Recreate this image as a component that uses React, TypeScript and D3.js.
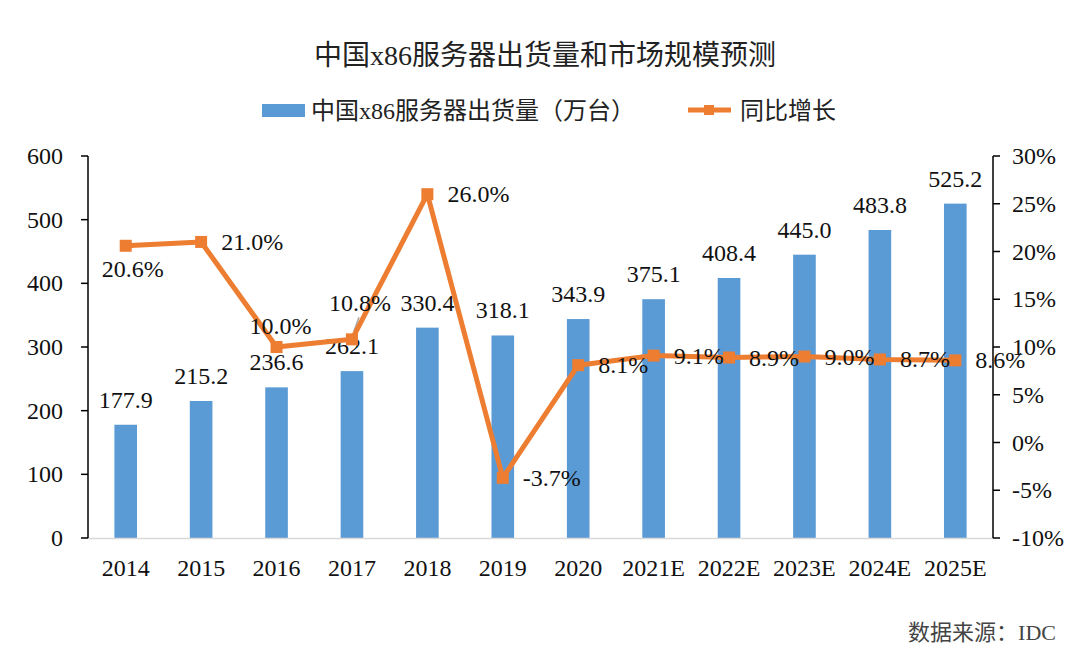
import * as d3 from 'd3';

const years = ['2014', '2015', '2016', '2017', '2018', '2019', '2020', '2021E', '2022E', '2023E', '2024E', '2025E'];
const shipments = [177.9, 215.2, 236.6, 262.1, 330.4, 318.1, 343.9, 375.1, 408.4, 445.0, 483.8, 525.2];
const growth = [20.6, 21.0, 10.0, 10.8, 26.0, -3.7, 8.1, 9.1, 8.9, 9.0, 8.7, 8.6];
const leftTicks = [0, 100, 200, 300, 400, 500, 600];
const rightTicks = [-10, -5, 0, 5, 10, 15, 20, 25, 30];

// label placement for the growth line: 'r' right, 'b' below, 't' above
const growthPos = ['b', 'r', 't', 't', 'r', 'r', 'r', 'r', 'r', 'r', 'r', 'r'];

const W = 1080;
const H = 653;
const left = 88;
const right = 993;
const top = 156;
const bottom = 538;

const BLUE = '#5B9BD5';
const ORANGE = '#ED7D31';
const FONT = '"Liberation Serif", "Times New Roman", "Noto Sans CJK SC", serif';
const CJK = '"Liberation Serif", "Noto Sans CJK SC", serif';

export default function App() {
  const x = d3.scaleBand<string>().domain(years).range([left, right]).paddingInner(0.7).paddingOuter(0.35);
  const y = d3.scaleLinear().domain([0, 600]).range([bottom, top]);
  const y2 = d3.scaleLinear().domain([-10, 30]).range([bottom, top]);
  const cx = (d: string) => (x(d) ?? 0) + x.bandwidth() / 2;

  const line = d3
    .line<number>()
    .x((_, i) => cx(years[i]))
    .y((d) => y2(d));

  return (
    <svg width={W} height={H} style={{ position: 'absolute', left: 0, top: 0, background: '#fff' }}>
      <text x={545} y={65} textAnchor="middle" fontFamily={CJK} fontSize={28} fill="#222">
        中国x86服务器出货量和市场规模预测
      </text>

      {/* legend */}
      <rect x={262} y={104} width={43} height={13} fill={BLUE} />
      <text x={311} y={119} fontFamily={CJK} fontSize={24} fill="#222">
        中国x86服务器出货量（万台）
      </text>
      <line x1={688} x2={731} y1={110} y2={110} stroke={ORANGE} strokeWidth={5} />
      <rect x={704} y={105} width={10} height={10} fill={ORANGE} />
      <text x={740} y={119} fontFamily={CJK} fontSize={24} fill="#222">
        同比增长
      </text>

      {/* bars */}
      {shipments.map((v, i) => (
        <rect key={years[i]} x={x(years[i])} y={y(v)} width={x.bandwidth()} height={bottom - y(v)} fill={BLUE} />
      ))}

      {/* x baseline */}
      <line x1={left} x2={right} y1={bottom + 0.5} y2={bottom + 0.5} stroke="#d9d9d9" strokeWidth={1.5} />

      {/* left axis */}
      <line x1={left} x2={left} y1={top} y2={bottom} stroke="#000" strokeWidth={1.5} />
      {leftTicks.map((t) => (
        <g key={t}>
          <line x1={left - 7} x2={left} y1={y(t)} y2={y(t)} stroke="#000" strokeWidth={1.5} />
          <text x={left - 25} y={y(t) + 8} textAnchor="end" fontFamily={FONT} fontSize={24} fill="#111">
            {t}
          </text>
        </g>
      ))}

      {/* right axis */}
      <line x1={right} x2={right} y1={top} y2={bottom} stroke="#000" strokeWidth={1.5} />
      {rightTicks.map((t) => (
        <g key={t}>
          <line x1={right} x2={right + 7} y1={y2(t)} y2={y2(t)} stroke="#000" strokeWidth={1.5} />
          <text x={right + 19} y={y2(t) + 8} fontFamily={FONT} fontSize={24} fill="#111">
            {t}%
          </text>
        </g>
      ))}

      {/* x labels */}
      {years.map((d) => (
        <text key={d} x={cx(d)} y={576} textAnchor="middle" fontFamily={FONT} fontSize={24} fill="#111">
          {d}
        </text>
      ))}

      {/* bar value labels */}
      {shipments.map((v, i) => (
        <text key={years[i]} x={cx(years[i])} y={y(v) - 17} textAnchor="middle" fontFamily={FONT} fontSize={24} fill="#111">
          {v.toFixed(1)}
        </text>
      ))}

      {/* leader line for 10.8% */}
      <line x1={cx(years[3]) + 2} y1={y2(growth[3]) - 8} x2={cx(years[3]) + 7} y2={y2(growth[3]) - 22} stroke="#a6a6a6" strokeWidth={1.5} />

      {/* growth line */}
      <path d={line(growth) ?? ''} fill="none" stroke={ORANGE} strokeWidth={5} strokeLinejoin="round" />
      {growth.map((g, i) => (
        <rect key={years[i]} x={cx(years[i]) - 6} y={y2(g) - 6} width={12} height={12} fill={ORANGE} />
      ))}

      {growth.map((g, i) => {
        const px = cx(years[i]);
        const py = y2(g);
        const pos = growthPos[i];
        let tx = px + 20;
        let ty = py + 8;
        let anchor: 'start' | 'middle' = 'start';
        if (pos === 'b') {
          tx = px + 7;
          ty = py + 31;
          anchor = 'middle';
        } else if (pos === 't') {
          tx = px + (i === 3 ? 8 : 4);
          ty = py - (i === 3 ? 28 : 13);
          anchor = 'middle';
        }
        return (
          <text key={years[i]} x={tx} y={ty} textAnchor={anchor} fontFamily={FONT} fontSize={24} fill="#111">
            {g.toFixed(1)}%
          </text>
        );
      })}

      <text x={1056} y={640} textAnchor="end" fontFamily={CJK} fontSize={22} fill="#444">
        数据来源：IDC
      </text>
    </svg>
  );
}
